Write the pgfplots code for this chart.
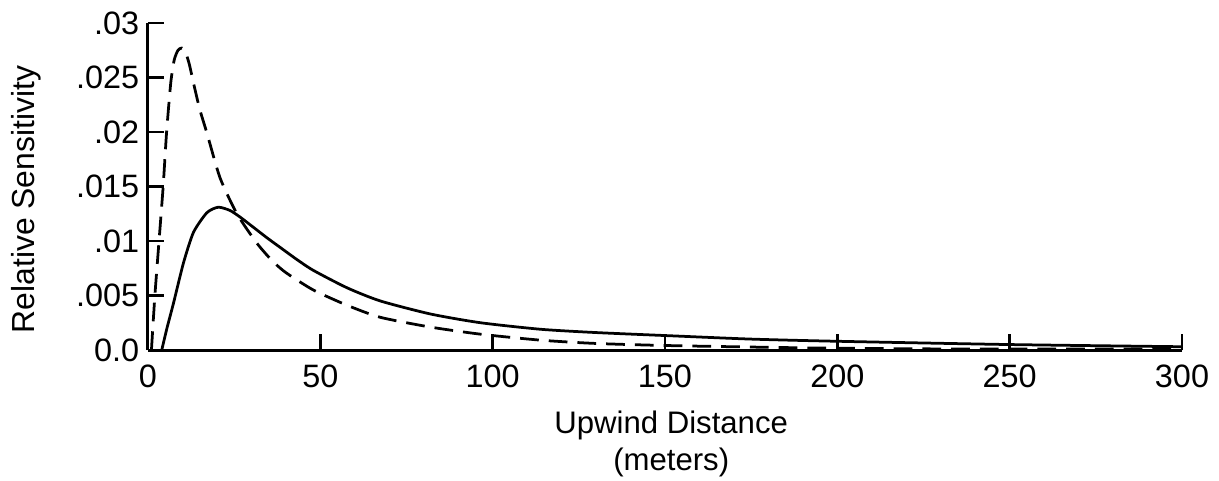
\documentclass[border=0pt]{standalone}
\usepackage{fontspec}
\setmainfont{Liberation Sans}
\usepackage{pgfplots}
\pgfplotsset{compat=1.18}

% solid curve
\pgfplotstableread{
x y
4 0
5.5 0.0020
7.4 0.0043
10.3 0.0080
13.2 0.0108
17.1 0.0126
20.4 0.0131
23.8 0.0128
26.7 0.0122
30 0.0114
34.5 0.0103
38.4 0.0094
43.2 0.0083
48 0.0073
57.8 0.0057
67.4 0.0045
82 0.0033
96.5 0.0025
114 0.0019
130 0.0016
152 0.0013
175 0.0010
200 0.0008
250 0.0005
300 0.0003
}\solidcurve

% dashed curve
\pgfplotstableread{
x y
1 0
2 0.0050
3.2 0.0100
4.4 0.0150
5.4 0.0200
6.6 0.0245
7.6 0.0266
8.7 0.0275
9.8 0.0277
10.9 0.0273
12 0.0262
13.2 0.0245
15 0.0221
17.1 0.0199
20.9 0.0158
25.8 0.0125
31.6 0.0098
36 0.0082
40 0.0071
48 0.0055
57.8 0.0041
67.4 0.0030
82 0.0021
96.5 0.00145
114 0.0009
130 0.0006
152 0.0004
190 0.0002
230 0.0001
300 0.0001
}\dashedcurve

\begin{document}
\begin{tikzpicture}
\begin{axis}[
    scale only axis,
    width=413.6bp, height=130.8bp,
    xmin=0, xmax=300, ymin=0, ymax=0.03,
    axis lines=left,
    axis line style={-, line width=1.2bp},
    tick align=inside,
    major tick length=6.5bp,
    tick style={line width=1bp, black},
    xtick={0,50,100,150,200,250,300},
    xticklabels={0,50,100,150,200,250,300},
    ytick={0,0.005,0.01,0.015,0.02,0.025,0.03},
    yticklabels={0.0,.005,.01,.015,.02,.025,.03},
    scaled y ticks=false,
    /pgf/number format/assume math mode=true,
    tick label style={font=\fontsize{13}{15}\selectfont},
    xticklabel style={yshift=-2.5bp},
    xlabel={Upwind Distance\\(meters)},
    ylabel={Relative Sensitivity},
    every axis x label/.style={at={(axis description cs:0.506,-0.287)}, anchor=center, align=center, font=\fontsize{12.5}{15}\selectfont},
    every axis y label/.style={at={(axis description cs:-0.118,0.46)}, rotate=90, anchor=center, font=\fontsize{12.8}{15}\selectfont},
    clip=false,
]
\addplot[black, line width=1.1bp, smooth, tension=0.4] table[x=x, y=y] {\solidcurve};
\addplot[black, line width=1.1bp, smooth, tension=0.4, dash pattern=on 7.5bp off 4bp] table[x=x, y=y] {\dashedcurve};
\end{axis}
\pgfresetboundingbox
\path (current axis.south west) ++(-59.2bp,-52.4bp) rectangle ++(487.6bp,192.4bp);
\end{tikzpicture}
\end{document}
